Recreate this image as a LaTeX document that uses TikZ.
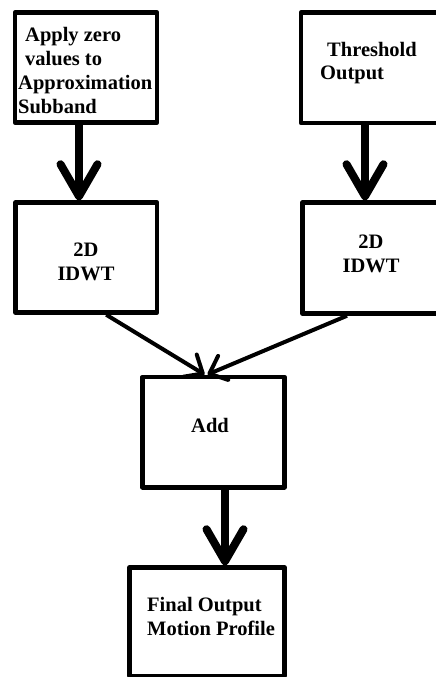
\documentclass[tikz,border=0pt]{standalone}
\usepackage{fontspec}
\setmainfont{Liberation Serif}
\usetikzlibrary{arrows.meta}

\tikzset{
  box/.style={draw=black, line width=4.5pt, inner sep=0pt, line join=round},
  lbl/.style={font=\fontsize{20.5}{23.7}\selectfont\bfseries, inner sep=0pt},
  bigflow/.style={line width=8pt, -{Straight Barb[length=32pt,width=37pt,round]}},
  thinflow/.style={line width=4pt, -{Straight Barb[length=15pt,width=26pt,round]}},
}

\begin{document}
\begin{tikzpicture}[x=1pt,y=-1pt]
  \useasboundingbox (0,0) rectangle (436,677);
  \clip (0,0) rectangle (436,677);
  \fill[white] (0,0) rectangle (436,677);

  % processing blocks
  \node[box, minimum width=142pt, minimum height=110pt]   (zero)  at (86,67.5)    {};
  \node[box, minimum width=144pt, minimum height=110.5pt] (thr)   at (373,67.75)  {};
  \node[box, minimum width=141.5pt, minimum height=110pt] (idwtl) at (86.25,257.5) {};
  \node[box, minimum width=143pt, minimum height=111pt]   (idwtr) at (374,258)    {};
  \node[box, minimum width=142pt, minimum height=110.5pt] (add)   at (213.5,432)  {};
  \node[box, minimum width=155pt, minimum height=108.5pt] (final) at (207,621.75) {};

  % block labels (base anchor = baseline of the last line)
  \node[lbl, anchor=base west, align=left] (zerot) at (18,113)
    {\hspace{7pt}Apply zero\\\hspace{7pt}values to\\Approximation\\Subband};
  \node[lbl, anchor=base west, align=left] (thrt) at (320,80)
    {\hspace{7pt}Threshold\\Output};
  \node[lbl, anchor=base, align=center] (idwtlt) at (86,280) {2D\\IDWT};
  \node[lbl, anchor=base, align=center] (idwtrt) at (371,272) {2D\\IDWT};
  \node[lbl, anchor=base] (addt) at (210,432) {Add};
  \node[lbl, anchor=base west, align=left] (finalt) at (147,635)
    {Final Output\\Motion Profile};

  % connectors
  \draw[bigflow] ([xshift=-7pt]zero.south) -- ([xshift=-7pt]zero.south |- idwtl.north);
  \draw[bigflow] ([xshift=-8pt]thr.south) -- ([xshift=-8pt]thr.south |- idwtr.north);
  \draw[thinflow] ([xshift=20pt]idwtl.south) -- ([xshift=-9pt]add.north);
  \draw[thinflow] ([xshift=-27pt]idwtr.south) -- ([xshift=-6pt]add.north);
  \draw[bigflow] ([xshift=11.5pt]add.south) -- ([xshift=11.5pt]add.south |- final.north);
\end{tikzpicture}
\end{document}
